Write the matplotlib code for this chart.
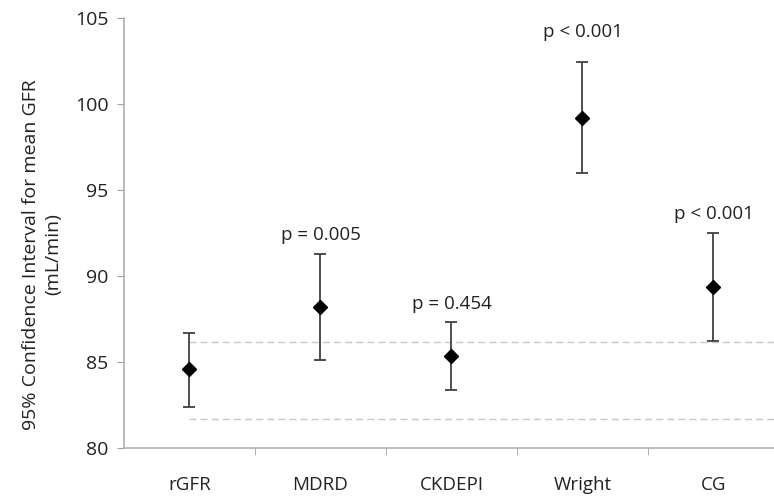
import matplotlib.pyplot as plt

methods = ['rGFR', 'MDRD', 'CKDEPI', 'Wright', 'CG']
mean_gfr = [84.6, 88.2, 85.35, 99.2, 89.35]
ci_upper = [86.7, 91.3, 87.3, 102.45, 92.5]
ci_lower = [82.4, 85.1, 83.4, 96.0, 86.2]
p_labels = ['', 'p = 0.005', 'p = 0.454', 'p < 0.001', 'p < 0.001']
ref_lines = [86.15, 81.7]

plt.rcParams['font.family'] = ['Open Sans', 'DejaVu Sans']

fig = plt.figure(figsize=(7.74, 5), dpi=100)
ax = fig.add_axes([124/774, 52/500, 655/774, 430/500])

x = list(range(len(methods)))
err_lo = [m - l for m, l in zip(mean_gfr, ci_lower)]
err_hi = [u - m for m, u in zip(mean_gfr, ci_upper)]

# reference band (dashed)
for y in ref_lines:
    ax.hlines(y, 0, 4.5, colors='#c8c8c8', linestyles=(0, (5, 3)), linewidth=1, zorder=1)

ax.errorbar(x, mean_gfr, yerr=[err_lo, err_hi], fmt='D', color='black', markersize=7,
            ecolor='#404040', elinewidth=1.3, capsize=4.5, capthick=1.3, zorder=3)

for i, lab in enumerate(p_labels):
    if lab:
        off = 15 if methods[i] == 'Wright' else 7
        ax.annotate(lab, (x[i], ci_upper[i]), xytext=(0, off), textcoords='offset points',
                    ha='center', va='bottom', fontsize=13.5, color='#222222')

ax.set_xlim(-0.5, 4.5)
ax.set_ylim(80, 105)
ax.set_yticks([80, 85, 90, 95, 100, 105])
ax.set_xticks(x)
ax.set_xticklabels(methods)
ax.set_xticks([0.5, 1.5, 2.5, 3.5], minor=True)
ax.tick_params(axis='x', which='major', length=0, pad=20, labelsize=13.5, labelcolor='#222222')
ax.tick_params(axis='x', which='minor', length=5, color='#a0a0a0', direction='out')
ax.tick_params(axis='y', length=5, color='#a0a0a0', direction='out', labelsize=14, labelcolor='#222222', pad=6)

ax.set_ylabel('95% Confidence Interval for mean GFR\n(mL/min)', fontsize=14, color='#222222',
              labelpad=9, linespacing=1.35, y=0.45)

for s in ['top', 'right']:
    ax.spines[s].set_visible(False)
for s in ['left', 'bottom']:
    ax.spines[s].set_color('#b0b0b0')
    ax.spines[s].set_linewidth(1.2)

plt.savefig('out.png', dpi=100)
